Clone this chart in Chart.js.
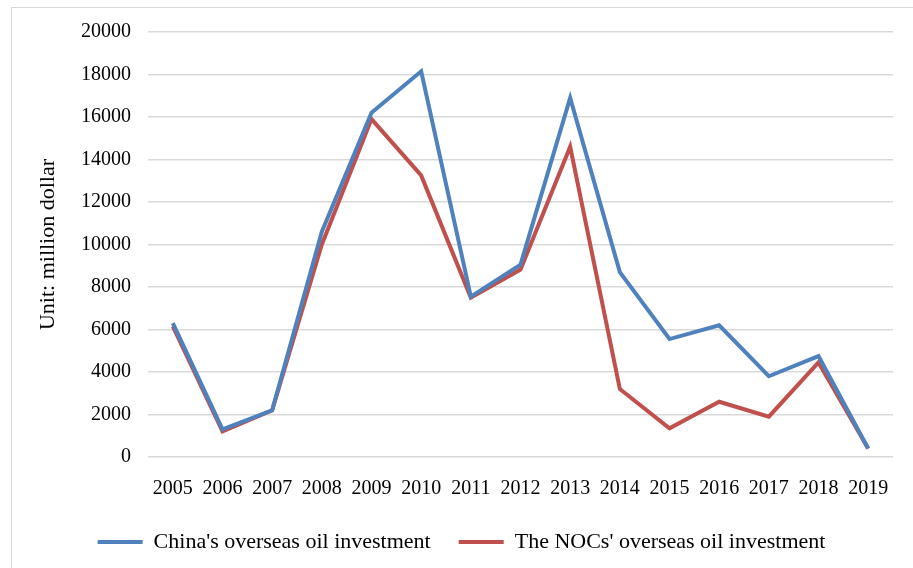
<!DOCTYPE html>
<html>
<head>
<meta charset="utf-8">
<script src="https://cdn.jsdelivr.net/npm/chart.js@4/dist/chart.umd.min.js"></script>
<style>
  html, body { margin: 0; padding: 0; background: #fff; overflow: hidden; }
  #wrap { position: relative; width: 913px; height: 568px; }
  #frame { position: absolute; left: 11px; top: 7px; width: 1000px; height: 1000px; border: 1px solid #d9d9d9; }
  #energyChart { position: absolute; left: 0; top: 0; }
</style>
</head>
<body>
<div id="wrap">
  <div id="frame"></div>
  <canvas id="energyChart" width="913" height="568"></canvas>
</div>
<script>
// values (million dollar)
const years = ['2005', '2006', '2007', '2008', '2009', '2010', '2011', '2012', '2013', '2014', '2015', '2016', '2017', '2018', '2019'];
const chinaInvestment = [6300, 1300, 2200, 10600, 16200, 18150, 7550, 9050, 16900, 8700, 5550, 6200, 3800, 4750, 400];
const nocInvestment = [6150, 1200, 2200, 10000, 15900, 13250, 7500, 8820, 14600, 3200, 1350, 2600, 1900, 4450, 400];

const serif = 'Liberation Serif, Times New Roman, serif';

document.addEventListener('DOMContentLoaded', function () {
  const ctx = document.getElementById('energyChart');
  new Chart(ctx, {
    type: 'line',
    data: {
      labels: years,
      datasets: [
        {
          label: "China's overseas oil investment",
          data: chinaInvestment,
          borderColor: '#4f81bd',
          backgroundColor: '#4f81bd',
          borderWidth: 4,
          pointRadius: 0,
          tension: 0,
          fill: false,
        },
        {
          label: "The NOCs' overseas oil investment",
          data: nocInvestment,
          borderColor: '#c0504d',
          backgroundColor: '#c0504d',
          borderWidth: 4,
          pointRadius: 0,
          tension: 0,
          fill: false,
        }
      ]
    },
    options: {
      responsive: false,
      animation: false,
      layout: { padding: { left: 30, right: 20, top: 32, bottom: 5 } },
      plugins: {
        legend: {
          display: true,
          position: 'bottom',
          labels: {
            usePointStyle: true,
            pointStyle: 'line',
            pointStyleWidth: 45,
            boxWidth: 45,
            padding: 28,
            color: '#000',
            font: { family: serif, size: 22 }
          }
        },
        title: { display: false },
        tooltip: { enabled: false }
      },
      scales: {
        y: {
          min: 0,
          max: 20000,
          ticks: {
            stepSize: 2000,
            padding: 17,
            color: '#000',
            font: { family: serif, size: 20 },
            callback: function (v) { return String(v); }
          },
          grid: { color: '#d9d9d9', lineWidth: 1.5, drawTicks: false },
          border: { display: false },
          title: {
            display: true,
            text: 'Unit: million dollar',
            color: '#000',
            font: { family: serif, size: 22, lineHeight: 1 },
            padding: { top: 7, bottom: 5 }
          }
        },
        x: {
          offset: true,
          ticks: {
            padding: 20,
            maxRotation: 0,
            autoSkip: false,
            color: '#000',
            font: { family: serif, size: 20 }
          },
          grid: { display: false, drawTicks: false },
          border: { display: false },
          // keep the axis band short so the legend sits close, like the original
          afterFit: function (scale) { scale.height = 46; }
        }
      }
    }
  });
});
</script>
</body>
</html>
